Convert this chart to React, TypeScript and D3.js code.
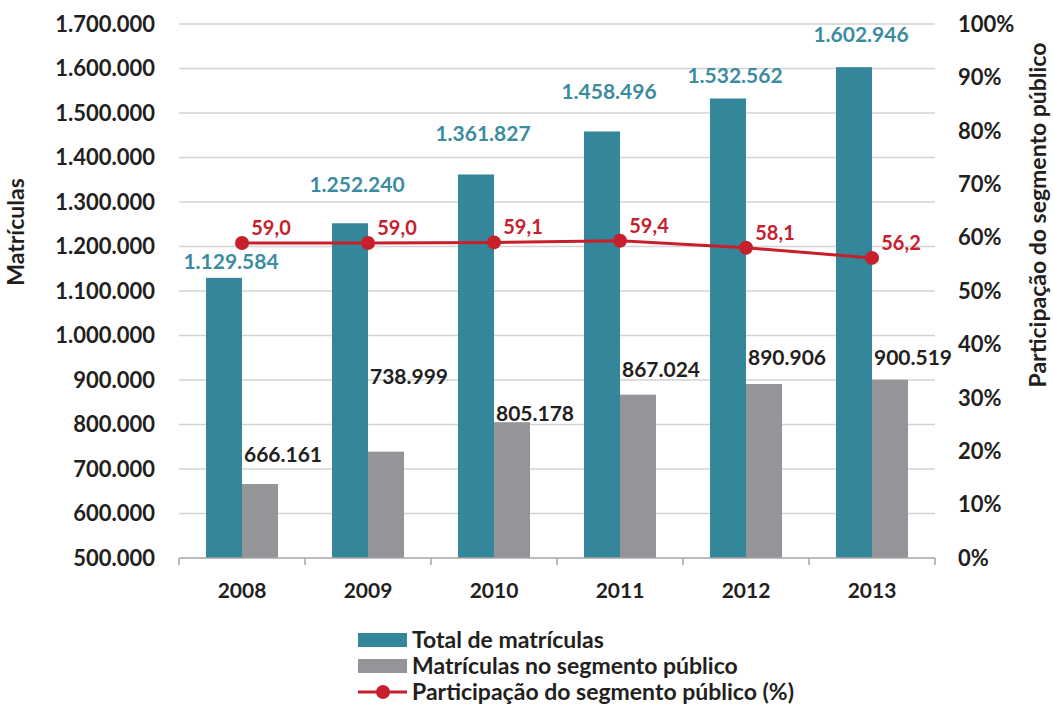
import React from "react";
import * as d3 from "d3";

const years = ["2008", "2009", "2010", "2011", "2012", "2013"];
const totalMatriculas = [1129584, 1252240, 1361827, 1458496, 1532562, 1602946];
const publicoMatriculas = [666161, 738999, 805178, 867024, 890906, 900519];
const participacao = [59.0, 59.0, 59.1, 59.4, 58.1, 56.2];
const leftTicks = [500000, 600000, 700000, 800000, 900000, 1000000, 1100000, 1200000, 1300000, 1400000, 1500000, 1600000, 1700000];
const rightTicks = [0, 10, 20, 30, 40, 50, 60, 70, 80, 90, 100];

// label nudges (manual placement as in the original)
const totalLabelDy = [-9, -31, -33, -32, -16, -25];
const publicoLabelDy = [-22, -68, -1, -18, -19, -15];

const W = 1053, H = 706;
const M = { left: 179, right: 935, top: 24, bottom: 558 };
const TEAL = "#34869b";
const GRAY = "#939598";
const RED = "#c7202c";
const TXT = "#231f20";
const FONT = "Lato, 'Open Sans', sans-serif";

const fmt = (v: number) => d3.format(",")(v).replace(/,/g, ".");
const fmtPct = (v: number) => v.toFixed(1).replace(".", ",");

export default function App() {
  const x = d3.scaleBand<string>().domain(years).range([M.left, M.right]);
  const y = d3.scaleLinear().domain([500000, 1700000]).range([M.bottom, M.top]);
  const y2 = d3.scaleLinear().domain([0, 100]).range([M.bottom, M.top]);
  const bw = 36;
  const cx = (yr: string) => (x(yr) as number) + x.bandwidth() / 2;
  const line = d3
    .line<number>()
    .x((_, i) => cx(years[i]))
    .y((d) => y2(d));

  return (
    <svg width={W} height={H} style={{ position: "absolute", left: 0, top: 0, background: "#fff" }} fontFamily={FONT} fontWeight="bold">
      {leftTicks.map((t) => (
        <g key={t}>
          {t > 500000 && <line x1={M.left} x2={M.right} y1={y(t)} y2={y(t)} stroke="#d3d3d3" strokeWidth={1.3} />}
          <text x={155} y={y(t)} dy="0.35em" textAnchor="end" fontSize={22} fill={TXT}>
            {fmt(t)}
          </text>
        </g>
      ))}
      {rightTicks.map((t) => (
        <text key={t} x={958} y={y2(t)} dy="0.35em" textAnchor="start" fontSize={22} fill={TXT}>
          {t}%
        </text>
      ))}
      {years.map((yr, i) => (
        <g key={yr}>
          <rect x={cx(yr) - bw} y={y(totalMatriculas[i])} width={bw} height={M.bottom - y(totalMatriculas[i])} fill={TEAL} />
          <rect x={cx(yr)} y={y(publicoMatriculas[i])} width={bw} height={M.bottom - y(publicoMatriculas[i])} fill={GRAY} />
        </g>
      ))}
      <line x1={M.left} x2={M.right} y1={M.bottom} y2={M.bottom} stroke="#a6a6a6" strokeWidth={1.5} />
      {[...years.map((yr) => x(yr) as number), M.right].map((px, i) => (
        <line key={i} x1={px} x2={px} y1={M.bottom} y2={M.bottom + 7} stroke="#a6a6a6" strokeWidth={1.5} />
      ))}
      {years.map((yr) => (
        <text key={yr} x={cx(yr)} y={598} textAnchor="middle" fontSize={21} fill={TXT}>
          {yr}
        </text>
      ))}
      <path d={line(participacao) || ""} fill="none" stroke={RED} strokeWidth={3} />
      {participacao.map((v, i) => (
        <circle key={i} cx={cx(years[i])} cy={y2(v)} r={7} fill={RED} />
      ))}
      {years.map((yr, i) => (
        <g key={"l" + yr}>
          <text x={cx(yr) - 11} y={y(totalMatriculas[i]) + totalLabelDy[i]} textAnchor="middle" fontSize={21} fill="#3b8ca0">
            {fmt(totalMatriculas[i])}
          </text>
          <text x={cx(yr) + 41} y={y(publicoMatriculas[i]) + publicoLabelDy[i]} textAnchor="middle" fontSize={21} fill={TXT}>
            {fmt(publicoMatriculas[i])}
          </text>
          <text x={cx(yr) + 29} y={y2(participacao[i]) - 8} textAnchor="middle" fontSize={20} fill={RED}>
            {fmtPct(participacao[i])}
          </text>
        </g>
      ))}
      <text transform={`translate(24,232) rotate(-90)`} textAnchor="middle" fontSize={23} fill={TXT}>
        Matrículas
      </text>
      <text transform={`translate(1046,215) rotate(-90)`} textAnchor="middle" fontSize={23} fill={TXT}>
        Participação do segmento público
      </text>
      <g fontSize={23} fill={TXT}>
        <rect x={358} y={633} width={49} height={14} fill={TEAL} />
        <text x={412} y={640} dy="0.35em">Total de matrículas</text>
        <rect x={358} y={659} width={49} height={14} fill={GRAY} />
        <text x={412} y={666} dy="0.35em">Matrículas no segmento público</text>
        <line x1={358} x2={407} y1={692} y2={692} stroke={RED} strokeWidth={3} />
        <circle cx={383} cy={692} r={7} fill={RED} />
        <text x={412} y={692} dy="0.35em">Participação do segmento público (%)</text>
      </g>
    </svg>
  );
}
